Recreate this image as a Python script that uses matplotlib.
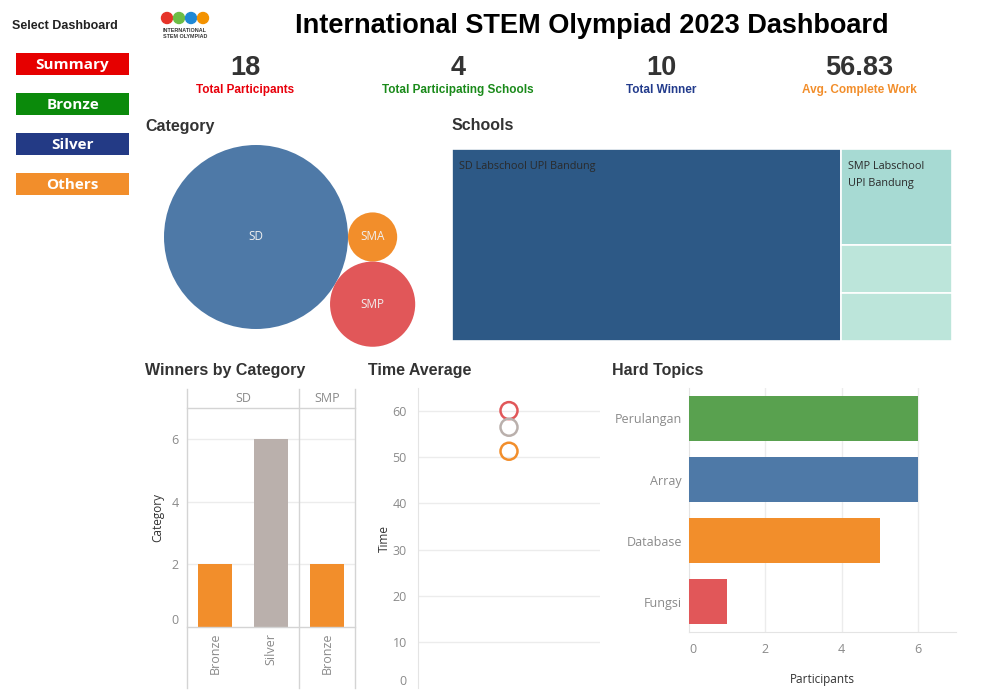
import numpy as np
import matplotlib
matplotlib.use("Agg")
import matplotlib.pyplot as plt
from matplotlib.patches import Circle, Rectangle
from matplotlib.lines import Line2D

# ---------------- data ----------------
kpi_values = ["18", "4", "10", "56.83"]
kpi_labels = ["Total Participants", "Total Participating Schools", "Total Winner", "Avg. Complete Work"]
kpi_colors = ["#e8000b", "#1a8a1a", "#223b8c", "#f28e2b"]

menu_labels = ["Summary", "Bronze", "Silver", "Others"]
menu_colors = ["#e60000", "#0b8a0b", "#233a85", "#f28e2b"]

category_names = ["SD", "SMA", "SMP"]
category_counts = [14, 1, 3]
category_colors = ["#4e79a7", "#f28e2b", "#e15759"]

school_names = ["SD Labschool UPI Bandung", "SMP Labschool\nUPI Bandung", "", ""]
school_counts = [14, 2, 1, 1]
school_colors = ["#2d5986", "#a7dad3", "#bce5da", "#bce5da"]

winner_groups = ["SD", "SMP"]
winner_medals = [["Bronze", "Silver"], ["Bronze"]]
winner_counts = [[2, 6], [2]]
medal_colors = {"Bronze": "#f28e2b", "Silver": "#bab0ac"}

time_groups = ["Others", "Silver", "Bronze"]
time_values = [60.1, 56.5, 51.3]
time_colors = ["#e15759", "#bab0ac", "#f28e2b"]

topics = ["Perulangan", "Array", "Database", "Fungsi"]
topic_counts = [6, 6, 5, 1]
topic_colors = ["#59a14f", "#4e79a7", "#f28e2b", "#e15759"]

# ---------------- layout helpers ----------------
W, H = 999, 699
fig = plt.figure(figsize=(W / 100, H / 100), dpi=100)
fig.patch.set_facecolor("white")

TITLE_FONT = "Liberation Sans"
TICK_FONT = "Open Sans"
GRID = "#ececec"
AXLINE = "#d4d4d4"
TICKC = "#8a8a8a"
TSIZE = 9


def add_ax(l, t, r, b):
    return fig.add_axes([l / W, 1 - b / H, (r - l) / W, (b - t) / H])


def ftext(x, y, s, **kw):
    return fig.text(x / W, 1 - y / H, s, **kw)


def fline(x0, y0, x1, y1, color=AXLINE, lw=1):
    fig.add_artist(Line2D([x0 / W, x1 / W], [1 - y0 / H, 1 - y1 / H],
                          transform=fig.transFigure, color=color, lw=lw))


# ---------------- header ----------------
ftext(65, 26, "Select Dashboard", family=TITLE_FONT, weight="bold", size=9,
      color="#222222", ha="center", va="center")
for i, (lab, col) in enumerate(zip(menu_labels, menu_colors)):
    top = 53 + 40 * i
    fig.add_artist(Rectangle((16 / W, 1 - (top + 22) / H), 113 / W, 22 / H,
                             transform=fig.transFigure, color=col, lw=0))
    ftext(72.5, top + 12, lab, family=TICK_FONT, weight="bold", size=11,
          color="white", ha="center", va="center")

# logo
logo = add_ax(155, 8, 215, 44)
logo.set_xlim(0, 60)
logo.set_ylim(36, 0)
logo.set_aspect("equal")
logo.axis("off")
for j, c in enumerate(["#e63329", "#6cbd45", "#1e88d6", "#f39200"]):
    logo.add_patch(Circle((12 + 12 * j, 10), 5.5, color=c))
logo.text(30, 23, "INTERNATIONAL", size=3.9, ha="center", va="center",
          family=TITLE_FONT, weight="bold", color="#333333")
logo.text(30, 29, "STEM OLYMPIAD", size=3.9, ha="center", va="center",
          family=TITLE_FONT, weight="bold", color="#333333")

ftext(592, 26, "International STEM Olympiad 2023 Dashboard", family=TITLE_FONT,
      weight="bold", size=19.5, color="black", ha="center", va="center")

kpi_x = [245, 458, 661, 859]
for x, v, lab, c in zip(kpi_x, kpi_values, kpi_labels, kpi_colors):
    ftext(x, 68, v, family=TITLE_FONT, weight="bold", size=19.5, color="#333333",
          ha="center", va="center")
    ftext(x, 90, lab, family=TITLE_FONT, weight="bold", size=8.5, color=c,
          ha="center", va="center")

# section titles
for x, y, s in [(145, 126, "Category"), (452, 126, "Schools"),
                (145, 370, "Winners by Category"), (368, 370, "Time Average"),
                (612, 370, "Hard Topics")]:
    ftext(x, y, s, family=TITLE_FONT, weight="bold", size=11.5, color="#333333",
          ha="left", va="center")

# ---------------- Category bubbles ----------------
radii = np.sqrt(np.array(category_counts, dtype=float))
r_sd, r_sma, r_smp = radii
centers = np.zeros((3, 2))
centers[1] = [r_sd + r_sma, 0.0]
d = r_sd + r_sma
d1 = r_sd + r_smp
d2 = r_sma + r_smp
cx = (d1 ** 2 - d2 ** 2 + d ** 2) / (2 * d)
centers[2] = [cx, -np.sqrt(max(d1 ** 2 - cx ** 2, 0))]

k = 92.0 / r_sd  # pixels per unit
bax = add_ax(145, 140, 440, 352)
bax.set_xlim((145 - 256) / k, (440 - 256) / k)
bax.set_ylim(-(352 - 237) / k, (237 - 140) / k)
bax.axis("off")
for (x, y), r, name, c in zip(centers, radii, category_names, category_colors):
    bax.add_patch(Circle((x, y), r, color=c, lw=0))
    bax.text(x, y, name, ha="center", va="center", color="#f0f0f0", size=8.5,
             family=TICK_FONT)

# ---------------- Schools treemap ----------------
tax = add_ax(452, 149, 952, 341)
tax.set_xlim(0, 1)
tax.set_ylim(1, 0)
tax.axis("off")
total = float(sum(school_counts))
w0 = school_counts[0] / total
rects = [(0.0, 0.0, w0, 1.0)]
rest = school_counts[1:]
ycur = 0.0
for v in rest:
    h = v / float(sum(rest))
    rects.append((w0, ycur, 1 - w0, h))
    ycur += h
for (x, y, w, h), name, c in zip(rects, school_names, school_colors):
    tax.add_patch(Rectangle((x, y), w, h, facecolor=c, edgecolor="white", lw=1.2))
    if name:
        tax.annotate(name, (x, y), xytext=(5, -8.5), textcoords="offset points",
                     ha="left", va="top", size=7.8, color="#2a2a2a",
                     family=TICK_FONT, linespacing=1.75)

# ---------------- Winners by Category ----------------
panel_edges = [187, 299, 355]
for gi, (grp, medals, counts) in enumerate(zip(winner_groups, winner_medals, winner_counts)):
    ax = add_ax(panel_edges[gi], 408, panel_edges[gi + 1], 627)
    xs = np.arange(len(medals))
    ax.bar(xs, counts, width=0.6, color=[medal_colors[m] for m in medals], zorder=3)
    ax.set_xlim(-0.5, len(medals) - 0.5)
    ax.set_ylim(0, 7)
    ax.set_yticks([0, 2, 4, 6])
    for yv in [2, 4, 6]:
        ax.axhline(yv, color=GRID, lw=1, zorder=1)
    for s in ax.spines.values():
        s.set_visible(False)
    ax.set_xticks(xs)
    ax.set_xticklabels(medals, rotation=90, family=TICK_FONT, size=TSIZE, color=TICKC)
    ax.tick_params(axis="x", length=0, pad=4)
    ax.tick_params(axis="y", length=0, pad=6, labelsize=TSIZE, labelcolor=TICKC)
    for lab in ax.get_yticklabels():
        lab.set_family(TICK_FONT)
    ax.get_yticklabels()[0].set_va("bottom")
    if gi > 0:
        ax.tick_params(axis="y", labelleft=False)
    else:
        ax.set_ylabel("Category", family=TICK_FONT, size=8.5, color="#333333", labelpad=5)
    ax.patch.set_alpha(0)
    ftext((panel_edges[gi] + panel_edges[gi + 1]) / 2, 398.5, grp, family=TICK_FONT,
          size=TSIZE, color=TICKC, ha="center", va="center")

for x in panel_edges:
    fline(x, 389, x, 688)
fline(187, 408, 355, 408)
fline(187, 627, 355, 627)

# ---------------- Time Average ----------------
tmax = add_ax(418, 388, 600, 688)
tmax.set_xlim(-0.5, 0.5)
tmax.set_ylim(0, 65)
tmax.set_yticks(np.arange(0, 61, 10))
for yv in np.arange(10, 61, 10):
    tmax.axhline(yv, color=GRID, lw=1, zorder=1)
for g, v, c in zip(time_groups, time_values, time_colors):
    tmax.scatter([0], [v], s=150, facecolors="none", edgecolors=c, linewidths=1.8, zorder=3)
for name, s in tmax.spines.items():
    s.set_visible(name == "left")
tmax.spines["left"].set_color("#e4e4e4")
tmax.set_xticks([])
tmax.tick_params(axis="y", length=0, pad=8, labelsize=TSIZE, labelcolor=TICKC)
for lab in tmax.get_yticklabels():
    lab.set_family(TICK_FONT)
tmax.get_yticklabels()[0].set_va("bottom")
tmax.set_ylabel("Time", family=TICK_FONT, size=8.5, color="#333333", labelpad=1)

# ---------------- Hard Topics ----------------
hax = add_ax(689, 388, 956, 632)
ypos = np.arange(len(topics))
hax.barh(ypos, topic_counts, height=0.75, color=topic_colors, zorder=3)
hax.set_ylim(len(topics) - 0.5, -0.5)
hax.set_xlim(0, 7)
hax.set_xticks([0, 2, 4, 6])
for xv in [2, 4, 6]:
    hax.axvline(xv, color=GRID, lw=1, zorder=1)
hax.set_yticks(ypos)
hax.set_yticklabels(topics)
for name, s in hax.spines.items():
    s.set_visible(name in ("left", "bottom"))
    s.set_color("#e4e4e4")
hax.tick_params(length=0, labelsize=TSIZE, labelcolor=TICKC)
hax.tick_params(axis="y", pad=5)
hax.tick_params(axis="x", pad=8)
for lab in hax.get_yticklabels() + hax.get_xticklabels():
    lab.set_family(TICK_FONT)
hax.get_xticklabels()[0].set_ha("left")
hax.set_xlabel("Participants", family=TICK_FONT, size=8.5, color="#333333", labelpad=12)

fig.savefig("out.png", dpi=100)
